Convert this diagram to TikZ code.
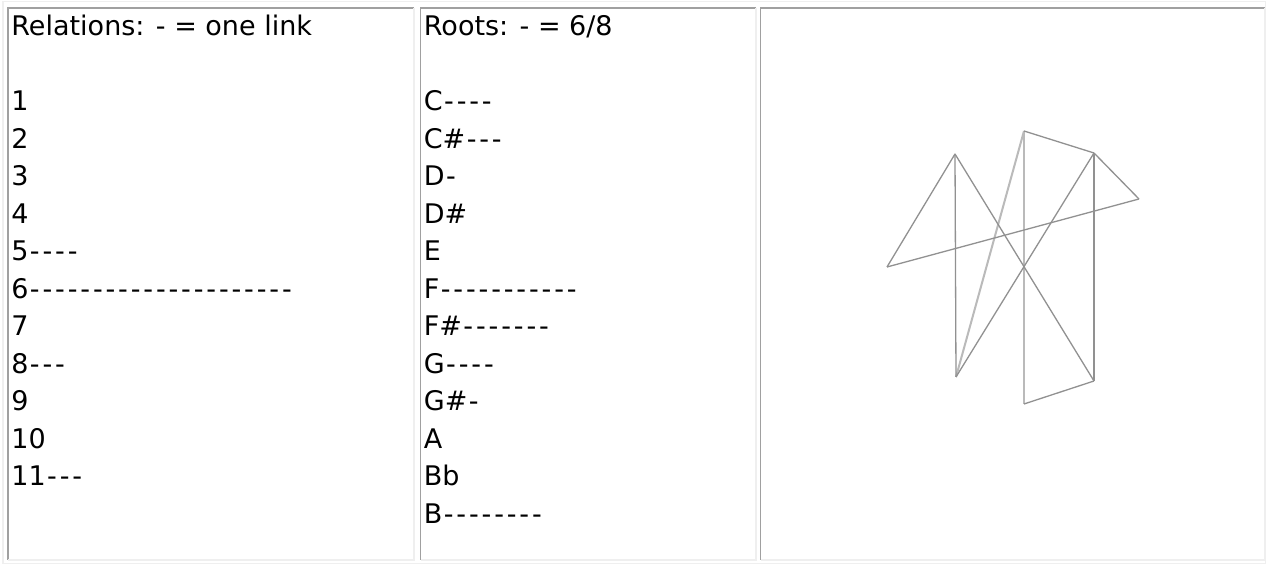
\documentclass[tikz,border=0pt]{standalone}
\usepackage{fontspec}
\setmainfont{DejaVu Sans}[Ligatures=TeXOff]
\definecolor{bordhi}{HTML}{A0A0A0}
\definecolor{bordlo}{HTML}{EFEFEF}
\tikzset{
  txt/.style  ={anchor=base west, inner sep=0pt, font=\fontsize{13.5pt}{16pt}\selectfont},
  cell/.style ={inner sep=0pt, outer sep=0pt, minimum height=276pt},
  hi/.style   ={draw=bordhi, line width=0.65pt},
  lo/.style   ={draw=bordlo, line width=0.65pt},
  link/.style ={draw=black!43, line width=0.65pt},
  vlink/.style={draw=black!27, line width=1pt},
}
\newcommand{\lk}[1]{\foreach \j in {1,...,#1}{\makebox[6.3pt]{-}}}

\begin{document}
\begin{tikzpicture}[x=0.5pt, y=-0.5pt]
  \fill[white] (0,0) rectangle (1266,565);
  \useasboundingbox (0,0) rectangle (1266,565);
  \draw[lo] (3,1.5) rectangle (1265.5,563.5);

  \node[cell, minimum width=203pt] (rel) at (211,284) {};
  \node[cell, minimum width=167.75pt] (root) at (588.25,284) {};
  \node[cell, minimum width=252pt] (pic) at (1012.5,284) {};
  \foreach \c in {rel,root,pic}{
    \draw[hi] (\c.south west) -- (\c.north west) -- (\c.north east);
    \draw[lo] (\c.north east) -- (\c.south east) -- (\c.south west);
  }

  \node[txt] (relhead) at (11,36) {Relations: - = one link};
  \foreach \t [count=\i from 2] in {1,2,3,4,5\lk{4},6\lk{21},7,8\lk{3},9,10,11\lk{3}}
    \node[txt] (rel\i) at (11,36+37.5*\i) {\t};

  \node[txt] (roothead) at (423.5,36) {Roots: - = 6/8};
  \foreach \t [count=\i from 2] in {C\lk{4},C\#\lk{3},D\lk{1},D\#,E,F\lk{11},F\#\lk{7},G\lk{4},G\#\lk{1},A,Bb,B\lk{8}}
    \node[txt] (root\i) at (423.5,36+37.5*\i) {\t};

  \coordinate (v1) at (887,267);
  \coordinate (v2) at (955,154);
  \coordinate (v3) at (1024,131);
  \coordinate (v4) at (1094,153);
  \coordinate (v5) at (1139,199);
  \coordinate (v6) at (956,377);
  \coordinate (v7) at (1024,404);
  \coordinate (v8) at (1094,381);

  \draw[vlink] (v3) -- (v7);
  \draw[vlink] (v3) -- (v6);
  \foreach \a/\b in {1/2,1/5,2/6,2/8,3/4,4/5,4/6,4/8,7/8}
    \draw[link] (v\a) -- (v\b);
\end{tikzpicture}
\end{document}
